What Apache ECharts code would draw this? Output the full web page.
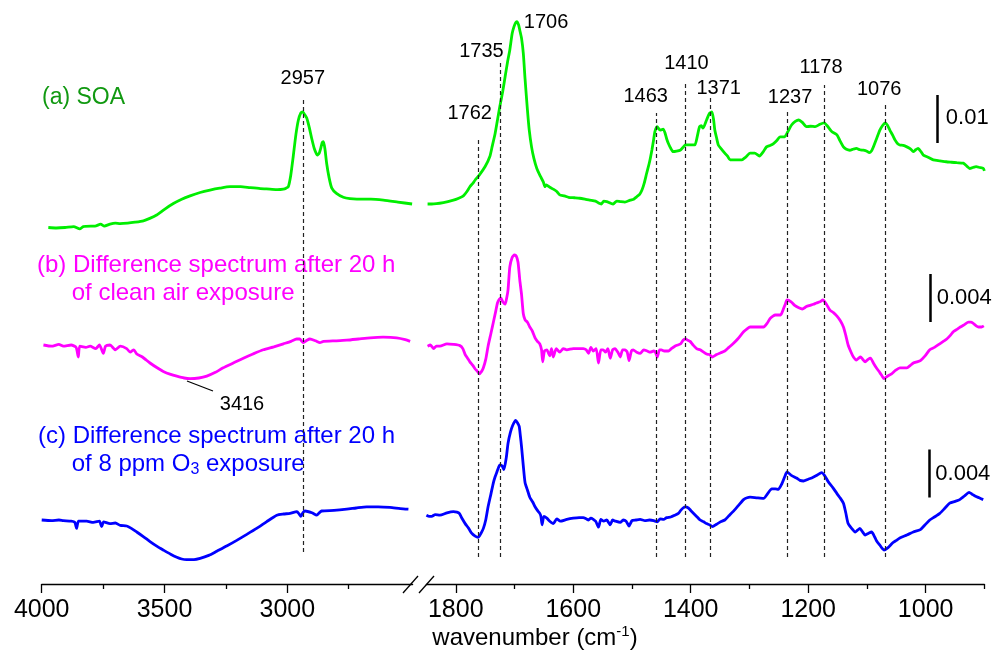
<!DOCTYPE html>
<html>
<head>
<meta charset="utf-8">
<script src="https://cdn.jsdelivr.net/npm/echarts@6/dist/echarts.min.js"></script>
<style>
  html, body { margin: 0; padding: 0; background: #fff; }
  #chart { width: 993px; height: 652px; }
</style>
</head>
<body>
<div id="chart"></div>
<script>
// wavenumber (cm-1), absorbance in mAbs
var soaLeft = [[3973,0.1],[3940,0.0],[3905,0.1],[3870,0.3],[3845,-0.2],[3831,0.3],[3800,0.4],[3783,0.4],[3760,0.8],[3745,0.4],[3722,0.8],[3700,1.0],[3681,0.9],[3650,1.0],[3620,1.2],[3586,1.5],[3560,2.0],[3532,2.7],[3500,3.9],[3464,5.1],[3430,6.0],[3396,6.7],[3355,7.4],[3315,7.9],[3275,8.3],[3233,8.6],[3190,8.6],[3152,8.4],[3110,8.2],[3071,8.1],[3040,8.0],[3016,8.1],[3005,8.3],[2996,8.6],[2986,11],[2976,14.9],[2965,19.5],[2955,22.5],[2945,24.0],[2937,24.2],[2929,23.6],[2921,22.9],[2911,21],[2901,18.7],[2890,16.5],[2878,15.2],[2870,15.6],[2864,16.6],[2858,17.8],[2853,18.0],[2847,16.5],[2840,13.5],[2830,10.5],[2819,8.3],[2800,7.2],[2772,6.4],[2745,6.1],[2717,6.0],[2660,6.0],[2609,5.8],[2550,5.4],[2492,5.0]];
var soaRight = [[1848,5.0],[1841,5.0],[1821,5.3],[1804,5.8],[1795,6.2],[1787,6.7],[1781,7.6],[1776,8.6],[1771,9.3],[1767,10.0],[1760,11.0],[1750,12.8],[1742,14.9],[1738,17],[1733,19.7],[1729,22.5],[1725,25.3],[1720,28.5],[1716,31.5],[1712,34.5],[1708,37.1],[1704,40.5],[1701,41.9],[1698,42.8],[1696,43.0],[1693,42.3],[1691,41.2],[1688,39.5],[1685,36.4],[1682,31],[1678,24.6],[1675,20.5],[1671,16.9],[1667,14.5],[1662,12.4],[1656,10.8],[1651,9.6],[1648,8.6],[1646,9.0],[1640,8.5],[1634,8.1],[1628,7.6],[1623,6.9],[1615,6.7],[1608,6.4],[1598,6.3],[1589,6.2],[1580,6.0],[1572,5.8],[1562,5.6],[1557,5.2],[1552,5.0],[1548,5.6],[1543,5.5],[1537,5.2],[1532,5.0],[1526,5.6],[1520,5.5],[1512,5.4],[1503,5.8],[1497,6.0],[1492,6.5],[1487,7.0],[1483,7.9],[1479,9.4],[1475,11.4],[1470,13.8],[1466,16.3],[1463,18.5],[1461,20.1],[1457,21.1],[1454,20.6],[1451,20.4],[1447,20.6],[1444,19.9],[1441,18.6],[1438,17.6],[1434,16.6],[1430,15.9],[1424,16.0],[1418,16.2],[1413,16.8],[1409,17.3],[1400,17.3],[1393,17.3],[1389,19],[1385,21.1],[1382,21.3],[1379,20.8],[1373,22.5],[1368,23.9],[1364,24.2],[1361,22.5],[1359,20.4],[1356,18.8],[1353,17.3],[1348,16.5],[1342,15.6],[1337,14.9],[1333,14.2],[1323,14.2],[1313,14.2],[1306,14.8],[1299,15.6],[1291,15.6],[1283,15.0],[1277,15.8],[1271,16.9],[1265,17.2],[1259,17.6],[1253,18.3],[1248,19.0],[1240,19.0],[1235,20.0],[1228,21.5],[1222,22.2],[1216,22.5],[1210,22.0],[1203,21.1],[1196,21.2],[1188,21.1],[1180,21.6],[1173,21.9],[1167,21.2],[1160,20.1],[1151,19.4],[1146,18.2],[1140,16.9],[1135,16.4],[1129,16.2],[1124,16.4],[1118,16.6],[1112,16.3],[1106,16.2],[1100,16.0],[1096,15.7],[1092,16.1],[1089,16.9],[1083,18.8],[1078,20.4],[1073,21.4],[1069,21.9],[1065,21.4],[1061,20.4],[1056,19.3],[1052,18.3],[1048,17.6],[1044,17.3],[1038,17.2],[1032,16.9],[1026,16.5],[1021,15.9],[1017,16.3],[1013,16.6],[1008,15.9],[1004,15.2],[995,14.7],[987,14.2],[976,14.0],[965,13.8],[956,13.7],[947,13.6],[936,13.5],[930,12.9],[925,12.4],[920,12.6],[914,12.8],[908,12.6],[902,12.4],[900,11.9]];
var cleanLeft = [[3993,0],[3960,-0.1],[3930,0.05],[3912,-0.1],[3880,0.0],[3860,-0.2],[3851,-1.0],[3845,-0.1],[3820,-0.2],[3803,-0.1],[3780,-0.3],[3765,0],[3749,-0.7],[3740,-0.1],[3722,0],[3700,-0.4],[3680,-0.1],[3654,-0.3],[3640,-0.6],[3625,-0.4],[3613,-0.75],[3590,-1.0],[3559,-1.5],[3530,-1.9],[3505,-2.2],[3475,-2.45],[3450,-2.6],[3420,-2.75],[3396,-2.8],[3360,-2.75],[3328,-2.6],[3295,-2.3],[3261,-1.9],[3220,-1.5],[3179,-1.1],[3140,-0.75],[3098,-0.4],[3055,-0.15],[3016,0.1],[2985,0.3],[2962,0.5],[2950,0.5],[2935,0.2],[2920,0.4],[2908,0.5],[2885,0.35],[2867,0.2],[2853,0.3],[2800,0.35],[2758,0.4],[2710,0.5],[2663,0.6],[2610,0.65],[2555,0.6],[2520,0.45],[2500,0.3]];
var cleanRight = [[1848,-0.1],[1843,0],[1838,-0.3],[1833,-0.1],[1827,-0.1],[1815,0.1],[1804,0.05],[1793,-0.05],[1788,-0.3],[1784,-0.8],[1780,-1.1],[1776,-1.4],[1771,-1.7],[1767,-2.0],[1763,-2.2],[1760,-2.4],[1756,-2.2],[1753,-1.9],[1749,-1.2],[1745,-0.1],[1740,1.0],[1736,1.9],[1732,2.8],[1729,3.5],[1726,3.8],[1723,3.9],[1720,3.6],[1716,3.4],[1713,4.0],[1711,4.6],[1708,6.5],[1704,7.3],[1700,7.5],[1697,7.4],[1694,6.9],[1691,5.4],[1688,4.2],[1685,2.6],[1682,2.1],[1678,1.9],[1674,1.5],[1670,1.2],[1665,0.6],[1661,0.3],[1657,0.1],[1654,-0.4],[1652,-1.4],[1649,-0.5],[1645,-0.4],[1640,-0.9],[1637,-0.3],[1634,-1.0],[1629,-0.3],[1623,-0.6],[1617,-0.3],[1611,-0.4],[1600,-0.3],[1590,-0.3],[1583,-0.3],[1578,-0.4],[1574,-0.7],[1570,-0.2],[1566,-0.5],[1561,-0.3],[1557,-1.5],[1553,-0.4],[1549,-0.4],[1545,-0.6],[1541,-0.3],[1537,-1.1],[1533,-0.4],[1529,-0.3],[1524,-0.6],[1520,-1.0],[1516,-0.4],[1512,-0.4],[1508,-0.6],[1505,-1.3],[1501,-0.5],[1498,-0.4],[1492,-0.6],[1486,-0.7],[1480,-0.4],[1474,-0.5],[1469,-0.6],[1463,-0.5],[1460,-0.6],[1457,-1.0],[1453,-0.4],[1450,-0.4],[1445,-0.5],[1438,-0.5],[1433,-0.3],[1427,-0.1],[1422,0],[1417,0.1],[1413,0.4],[1409,0.5],[1405,0.4],[1401,0.3],[1396,0],[1390,-0.3],[1384,-0.4],[1378,-0.6],[1373,-0.75],[1368,-0.8],[1363,-1.0],[1356,-0.8],[1349,-0.65],[1342,-0.5],[1335,-0.2],[1328,0.1],[1320,0.5],[1310,1.1],[1304,1.35],[1299,1.5],[1288,1.5],[1276,1.5],[1270,1.8],[1265,2.2],[1260,2.4],[1256,2.5],[1247,2.5],[1243,2.9],[1239,3.4],[1236,3.75],[1229,3.6],[1223,3.3],[1216,3.1],[1210,3.0],[1203,3.2],[1197,3.3],[1191,3.4],[1186,3.5],[1180,3.6],[1175,3.75],[1169,3.4],[1163,2.9],[1157,2.7],[1151,2.4],[1145,2.0],[1140,1.5],[1136,0.8],[1132,0],[1127,-0.6],[1123,-1.0],[1118,-1.25],[1114,-1.1],[1111,-1.0],[1107,-1.2],[1103,-1.4],[1098,-1.2],[1094,-1.1],[1089,-1.5],[1084,-1.9],[1078,-2.3],[1074,-2.6],[1071,-2.8],[1065,-2.6],[1058,-2.4],[1051,-2.1],[1044,-1.9],[1038,-1.9],[1032,-1.9],[1026,-1.7],[1021,-1.5],[1015,-1.4],[1009,-1.3],[1001,-0.9],[993,-0.4],[985,-0.2],[976,0.1],[970,0.3],[964,0.5],[958,0.8],[953,1.1],[947,1.3],[941,1.5],[934,1.7],[927,1.9],[923,1.9],[919,1.8],[914,1.6],[910,1.5],[905,1.5],[901,1.6]];
var ozoneLeft = [[4000,0],[3960,-0.05],[3930,0],[3912,-0.05],[3880,-0.1],[3865,-0.2],[3858,-0.7],[3850,-0.1],[3817,-0.1],[3790,-0.2],[3765,-0.1],[3756,-0.55],[3748,-0.15],[3722,-0.3],[3700,-0.25],[3680,-0.45],[3654,-0.5],[3635,-0.7],[3613,-1.0],[3585,-1.4],[3559,-1.8],[3530,-2.2],[3505,-2.5],[3475,-2.85],[3450,-3.1],[3430,-3.25],[3410,-3.3],[3380,-3.3],[3355,-3.2],[3320,-2.95],[3287,-2.6],[3245,-2.15],[3206,-1.7],[3165,-1.2],[3125,-0.7],[3085,-0.15],[3043,0.4],[3015,0.5],[2989,0.55],[2961,0.7],[2952,0.5],[2945,0.3],[2937,0.6],[2928,0.75],[2900,0.6],[2880,0.4],[2870,0.6],[2860,0.75],[2810,0.8],[2758,0.9],[2720,1.0],[2677,1.1],[2630,1.1],[2582,1.05],[2540,0.95],[2507,0.9]];
var ozoneRight = [[1850,0.4],[1845,0.3],[1841,0.3],[1835,0.45],[1827,0.4],[1815,0.6],[1804,0.7],[1798,0.65],[1794,0.55],[1789,0.1],[1784,-0.3],[1778,-0.7],[1773,-1.1],[1767,-1.35],[1762,-1.45],[1757,-1.1],[1753,-0.7],[1749,0],[1745,1.1],[1740,2.2],[1736,3.1],[1733,3.6],[1730,4.0],[1727,4.4],[1725,4.6],[1721,4.5],[1718,4.2],[1714,5.2],[1711,6.4],[1707,7.3],[1703,7.9],[1698,8.3],[1695,8.1],[1692,7.8],[1690,7.0],[1688,6.1],[1685,4.5],[1682,3.1],[1678,2.5],[1674,1.9],[1669,1.5],[1665,1.1],[1661,0.8],[1657,0.55],[1655,0.3],[1653,-0.4],[1650,0.3],[1645,0.15],[1640,-0.1],[1634,-0.3],[1628,0.1],[1622,-0.1],[1611,0.05],[1600,0.15],[1590,0.2],[1583,0.2],[1578,0.1],[1574,0],[1570,0.15],[1562,-0.1],[1557,-0.6],[1553,0.05],[1548,-0.1],[1543,0],[1537,-0.4],[1533,0],[1528,-0.1],[1520,-0.2],[1515,0],[1510,-0.1],[1505,-0.5],[1500,-0.05],[1493,0],[1486,0.05],[1478,-0.05],[1470,0],[1463,-0.05],[1457,-0.15],[1452,0.1],[1446,0.05],[1441,0.2],[1434,0.25],[1427,0.4],[1421,0.55],[1417,0.8],[1413,1.0],[1409,1.1],[1404,1.0],[1400,0.8],[1395,0.55],[1390,0.3],[1384,0],[1378,-0.15],[1373,-0.3],[1368,-0.4],[1363,-0.55],[1356,-0.35],[1349,-0.15],[1342,0],[1335,0.35],[1328,0.7],[1319,1.2],[1310,1.7],[1304,1.85],[1299,1.9],[1288,1.85],[1276,1.8],[1269,2.2],[1262,2.6],[1256,2.6],[1251,2.55],[1245,3.0],[1240,3.6],[1236,4.0],[1228,3.7],[1220,3.5],[1214,3.3],[1208,3.25],[1200,3.4],[1194,3.5],[1186,3.7],[1177,3.95],[1172,3.7],[1166,3.2],[1158,2.7],[1151,2.2],[1145,1.8],[1140,1.4],[1136,0.6],[1132,-0.3],[1126,-0.7],[1120,-1.0],[1116,-0.85],[1112,-0.7],[1108,-0.95],[1103,-1.25],[1097,-1.1],[1092,-1.0],[1088,-1.3],[1084,-1.7],[1078,-2.1],[1071,-2.5],[1064,-2.3],[1056,-1.9],[1050,-1.7],[1044,-1.5],[1032,-1.25],[1021,-1.0],[1009,-0.8],[1001,-0.4],[993,0],[985,0.25],[976,0.55],[967,1.0],[959,1.4],[950,1.55],[942,1.7],[934,2.0],[926,2.3],[921,2.15],[916,2.0],[909,1.85],[902,1.7]];

// peak markers: where the dashed line sits, and what it says
var peakPos  = [2937, 1761, 1724, 1699, 1458, 1409, 1366, 1236, 1173, 1069];
var peakText = ['2957','1762','1735','1706','1463','1410','1371','1237','1178','1076'];

// axis ticks
var majorLeft  = [4000, 3500, 3000];
var minorLeft  = [3750, 3250, 2750];
var majorRight = [1800, 1600, 1400, 1200, 1000];
var minorRight = [1700, 1500, 1300, 1100, 900];

// scale bars (mAbs)
var barA = 10, barB = 4, barC = 4;

var FONT = '"Liberation Sans", Arial, sans-serif';
var GREEN = '#00ee00', MAGENTA = '#ff00ff', BLUE = '#0000ff';
var PX = 48;          // px per y unit
var AXIS_Y = 584;     // axis line position
function u(py) { return (AXIS_Y - py) / PX; }

// offsets and gains: (a) 0.01 abs per unit, (b)/(c) 0.004 abs per unit
function place(arr, basePx, mAbsPerUnit) {
    return arr.map(function (p) { return [p[0], u(basePx) + p[1] / mAbsPerUnit]; });
}

var peakTop = [97, 137, 63, 7, 113, 83, 97, 112, 85, 105];
var peakDx  = [0, -9, -19, 31, -11, 1, 8, 3, -3, -6];
var peakLy  = [78, 113, 51, 22, 96, 63, 88, 97, 67, 89];

var dash = {type: [4, 3], color: '#222', width: 1.2};
var solid = {type: 'solid', color: '#000', width: 2.5};

function vline(x, top, bottom, style) {
    return [{coord: [x, u(bottom)], lineStyle: style}, {coord: [x, u(top)]}];
}

var rightMarks = [];
for (var i = 1; i < peakPos.length; i++) {
    rightMarks.push(vline(peakPos[i], peakTop[i], 557, dash));
}
// scale bars
var barAbase = 143, barBbase = 322, barCbase = 497.5;
rightMarks.push([{coord: [981, u(barAbase)], lineStyle: solid}, {coord: [981, u(barAbase) + barA / 10]}]);

function mk(data) {
    return {silent: true, symbol: ['none', 'none'], label: {show: false}, animation: false, data: data};
}

function xAx(grid, min, max, ticks, len, label) {
    return {
        type: 'value', gridIndex: grid, min: min, max: max, inverse: true, position: 'bottom',
        splitLine: {show: false},
        axisLine: {show: label, onZero: false, lineStyle: {color: '#000', width: 1.3}},
        axisTick: {show: true, length: len, customValues: ticks, lineStyle: {color: '#000', width: 1.3}},
        axisLabel: {
            show: label, customValues: ticks, margin: 14, fontSize: 25, color: '#000', fontFamily: FONT,
            formatter: function (v) { return String(v); }
        }
    };
}
function yAx(grid) {
    return {type: 'value', gridIndex: grid, min: 0, max: 12, show: false};
}
function line(name, data, xi, yi, color, marks) {
    var s = {
        name: name, type: 'line', data: data, xAxisIndex: xi, yAxisIndex: yi,
        showSymbol: false, symbol: 'none', smooth: 0.2, animation: false,
        lineStyle: {color: color, width: 2.8}, itemStyle: {color: color}
    };
    if (marks) s.markLine = mk(marks);
    return s;
}

var chart = echarts.init(document.getElementById('chart'));
chart.setOption({
    backgroundColor: '#fff',
    animation: false,
    grid: [
        {left: 41.7, width: 370.9, top: AXIS_Y - 576, height: 576},
        {left: 426.4, width: 558, top: AXIS_Y - 576, height: 576}
    ],
    xAxis: [
        xAx(0, 2490, 4000, majorLeft, 9, true),
        xAx(0, 2490, 4000, minorLeft, 5, false),
        xAx(1, 900, 1850, majorRight, 9, true),
        xAx(1, 900, 1850, minorRight, 5, false)
    ],
    yAxis: [yAx(0), yAx(1)],
    series: [
        line('SOA', place(soaLeft, 228, 10), 0, 0, GREEN, [vline(peakPos[0], peakTop[0], 552, dash)]),
        line('SOA', place(soaRight, 228, 10), 2, 1, GREEN, rightMarks),
        line('clean', place(cleanLeft, 345, 4), 0, 0, MAGENTA),
        line('clean', place(cleanRight, 345, 4), 2, 1, MAGENTA,
            [[{coord: [991.4, u(barBbase)], lineStyle: solid}, {coord: [991.4, u(barBbase) + barB / 4]}]]),
        line('ozone', place(ozoneLeft, 520, 4), 0, 0, BLUE),
        line('ozone', place(ozoneRight, 520, 4), 2, 1, BLUE,
            [[{coord: [993.8, u(barCbase)], lineStyle: solid}, {coord: [993.8, u(barCbase) + barC / 4]}]])
    ]
});

// text annotations placed with the axis scales
function xPix(wn) {
    return wn > 2000 ? chart.convertToPixel({xAxisIndex: 0}, wn) : chart.convertToPixel({xAxisIndex: 2}, wn);
}
function txt(x, y, text, color, size, align) {
    return {type: 'text', silent: true, style: {
        x: x, y: y, text: text, fill: color, fontSize: size, fontFamily: FONT,
        align: align || 'left', verticalAlign: 'middle'
    }};
}
var g = [];
for (var k = 0; k < peakPos.length; k++) {
    g.push(txt(xPix(peakPos[k]) + peakDx[k], peakLy[k], peakText[k], '#000', 20, 'center'));
}
g.push(txt(xPix(981) + 9, 118, '0.01', '#000', 22));
g.push(txt(xPix(991.4) + 6, 298, '0.004', '#000', 22));
g.push(txt(xPix(993.8) + 6, 474, '0.004', '#000', 22));
g.push(txt(42, 98, '(a) SOA', '#119911', 23));
g.push(txt(37, 265, '(b) Difference spectrum after 20 h', MAGENTA, 24));
g.push(txt(71.7, 293, 'of clean air exposure', MAGENTA, 24));
g.push(txt(38, 436, '(c) Difference spectrum after 20 h', BLUE, 24));
g.push({type: 'text', silent: true, style: {
    x: 71.7, y: 464, text: '{a|of 8 ppm O}{s|3}{a| exposure}', fill: BLUE, fontFamily: FONT,
    align: 'left', verticalAlign: 'middle',
    rich: {
        a: {fontSize: 24, lineHeight: 28, fill: BLUE, fontFamily: FONT},
        s: {fontSize: 16, lineHeight: 22, verticalAlign: 'bottom', fill: BLUE, fontFamily: FONT}
    }
}});
g.push(txt(242, 404, '3416', '#000', 20, 'center'));
g.push({type: 'line', silent: true, shape: {x1: 187, y1: 381, x2: 213, y2: 391}, style: {stroke: '#000', lineWidth: 1.2}});
// axis break marks
g.push({type: 'line', silent: true, shape: {x1: 403, y1: 593, x2: 418, y2: 576}, style: {stroke: '#000', lineWidth: 1.3}});
g.push({type: 'line', silent: true, shape: {x1: 419, y1: 593, x2: 434, y2: 576}, style: {stroke: '#000', lineWidth: 1.3}});
// axis title
g.push({type: 'text', silent: true, style: {
    x: 535, y: 638, text: '{a|wavenumber (cm}{s|-1}{a|)}', fill: '#000', fontFamily: FONT,
    align: 'center', verticalAlign: 'middle',
    rich: {
        a: {fontSize: 24, lineHeight: 28, fill: '#000', fontFamily: FONT},
        s: {fontSize: 15, lineHeight: 15, verticalAlign: 'top', fill: '#000', fontFamily: FONT}
    }
}});
chart.setOption({graphic: g});
</script>
</body>
</html>
